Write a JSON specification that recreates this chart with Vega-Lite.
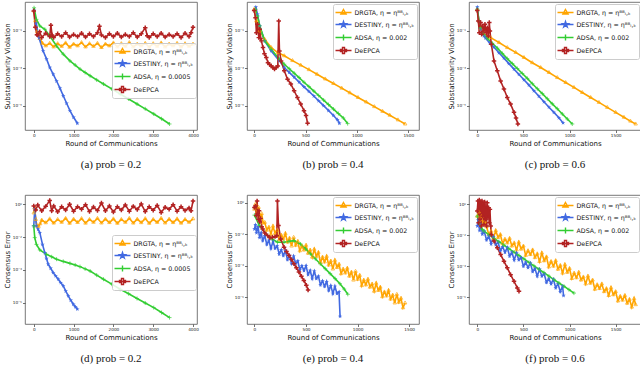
{
"$schema": "https://vega.github.io/schema/vega-lite/v6.json",
"padding": {"left": 2, "top": 1, "right": 0, "bottom": 0},
"background": "white",
"columns": 3,
"spacing": {"row": 65, "column": 50},
"bounds": "flush",
"datasets": {
"a": [
{"series":"DRGTA","x":0,"y":1.2},{"series":"DRGTA","x":40,"y":0.35},{"series":"DRGTA","x":90,"y":0.09},{"series":"DRGTA","x":150,"y":0.04},{"series":"DRGTA","x":220,"y":0.022},{"series":"DRGTA","x":300,"y":0.016},{"series":"DRGTA","x":400,"y":0.022},{"series":"DRGTA","x":500,"y":0.014},{"series":"DRGTA","x":600,"y":0.021},{"series":"DRGTA","x":700,"y":0.015},{"series":"DRGTA","x":800,"y":0.023},{"series":"DRGTA","x":900,"y":0.0135},{"series":"DRGTA","x":1000,"y":0.02},{"series":"DRGTA","x":1100,"y":0.016},{"series":"DRGTA","x":1200,"y":0.024},{"series":"DRGTA","x":1300,"y":0.014},{"series":"DRGTA","x":1400,"y":0.021},{"series":"DRGTA","x":1500,"y":0.015},{"series":"DRGTA","x":1600,"y":0.022},{"series":"DRGTA","x":1700,"y":0.013},{"series":"DRGTA","x":1800,"y":0.02},{"series":"DRGTA","x":1900,"y":0.016},{"series":"DRGTA","x":2000,"y":0.023},{"series":"DRGTA","x":2100,"y":0.014},{"series":"DRGTA","x":2200,"y":0.021},{"series":"DRGTA","x":2300,"y":0.015},{"series":"DRGTA","x":2400,"y":0.024},{"series":"DRGTA","x":2500,"y":0.014},{"series":"DRGTA","x":2600,"y":0.02},{"series":"DRGTA","x":2700,"y":0.016},{"series":"DRGTA","x":2800,"y":0.022},{"series":"DRGTA","x":2900,"y":0.0135},{"series":"DRGTA","x":3000,"y":0.021},{"series":"DRGTA","x":3100,"y":0.015},{"series":"DRGTA","x":3200,"y":0.023},{"series":"DRGTA","x":3300,"y":0.014},{"series":"DRGTA","x":3400,"y":0.02},{"series":"DRGTA","x":3500,"y":0.016},{"series":"DRGTA","x":3600,"y":0.022},{"series":"DRGTA","x":3700,"y":0.014},{"series":"DRGTA","x":3800,"y":0.021},{"series":"DRGTA","x":3900,"y":0.015},{"series":"DRGTA","x":4000,"y":0.02},
{"series":"DESTINY","x":8,"y":1.26},{"series":"DESTINY","x":60,"y":0.25},{"series":"DESTINY","x":135,"y":0.041},{"series":"DESTINY","x":236,"y":0.0085},{"series":"DESTINY","x":320,"y":0.0032},{"series":"DESTINY","x":404,"y":0.0011},{"series":"DESTINY","x":490,"y":4.8e-4},{"series":"DESTINY","x":573,"y":2.1e-4},{"series":"DESTINY","x":660,"y":8.5e-5},{"series":"DESTINY","x":741,"y":3.4e-5},{"series":"DESTINY","x":825,"y":1.35e-5},{"series":"DESTINY","x":909,"y":5.4e-6},{"series":"DESTINY","x":1000,"y":2.4e-6},{"series":"DESTINY","x":1095,"y":1.15e-6},
{"series":"ADSA","x":8,"y":1.74},{"series":"ADSA","x":67,"y":0.42},{"series":"ADSA","x":152,"y":0.186},{"series":"ADSA","x":278,"y":0.123},{"series":"ADSA","x":404,"y":0.054},{"series":"ADSA","x":573,"y":0.0158},{"series":"ADSA","x":741,"y":5.75e-3},{"series":"ADSA","x":909,"y":2.5e-3},{"series":"ADSA","x":1040,"y":1.5e-3},{"series":"ADSA","x":1162,"y":9.1e-4},{"series":"ADSA","x":1290,"y":6e-4},{"series":"ADSA","x":1415,"y":4.0e-4},{"series":"ADSA","x":1580,"y":2.4e-4},{"series":"ADSA","x":1751,"y":1.45e-4},{"series":"ADSA","x":1960,"y":7.9e-5},{"series":"ADSA","x":2172,"y":4.2e-5},{"series":"ADSA","x":2383,"y":2.3e-5},{"series":"ADSA","x":2594,"y":1.23e-5},{"series":"ADSA","x":2800,"y":6.8e-6},{"series":"ADSA","x":3014,"y":3.6e-6},{"series":"ADSA","x":3210,"y":2e-6},{"series":"ADSA","x":3410,"y":1.05e-6},
{"series":"DeEPCA","x":0,"y":1.17},{"series":"DeEPCA","x":40,"y":0.16},{"series":"DeEPCA","x":80,"y":0.063},{"series":"DeEPCA","x":100,"y":0.06},{"series":"DeEPCA","x":150,"y":0.09},{"series":"DeEPCA","x":200,"y":0.045},{"series":"DeEPCA","x":300,"y":0.075},{"series":"DeEPCA","x":400,"y":0.05},{"series":"DeEPCA","x":430,"y":0.2},{"series":"DeEPCA","x":460,"y":0.06},{"series":"DeEPCA","x":500,"y":0.045},{"series":"DeEPCA","x":600,"y":0.07},{"series":"DeEPCA","x":700,"y":0.05},{"series":"DeEPCA","x":800,"y":0.08},{"series":"DeEPCA","x":900,"y":0.048},{"series":"DeEPCA","x":1000,"y":0.065},{"series":"DeEPCA","x":1100,"y":0.05},{"series":"DeEPCA","x":1200,"y":0.075},{"series":"DeEPCA","x":1300,"y":0.047},{"series":"DeEPCA","x":1400,"y":0.07},{"series":"DeEPCA","x":1500,"y":0.05},{"series":"DeEPCA","x":1600,"y":0.08},{"series":"DeEPCA","x":1650,"y":0.18},{"series":"DeEPCA","x":1700,"y":0.06},{"series":"DeEPCA","x":1800,"y":0.045},{"series":"DeEPCA","x":1900,"y":0.07},{"series":"DeEPCA","x":2000,"y":0.05},{"series":"DeEPCA","x":2100,"y":0.075},{"series":"DeEPCA","x":2200,"y":0.048},{"series":"DeEPCA","x":2300,"y":0.065},{"series":"DeEPCA","x":2400,"y":0.05},{"series":"DeEPCA","x":2500,"y":0.08},{"series":"DeEPCA","x":2600,"y":0.047},{"series":"DeEPCA","x":2700,"y":0.07},{"series":"DeEPCA","x":2800,"y":0.15},{"series":"DeEPCA","x":2850,"y":0.055},{"series":"DeEPCA","x":2900,"y":0.045},{"series":"DeEPCA","x":3000,"y":0.07},{"series":"DeEPCA","x":3100,"y":0.05},{"series":"DeEPCA","x":3200,"y":0.075},{"series":"DeEPCA","x":3300,"y":0.048},{"series":"DeEPCA","x":3400,"y":0.065},{"series":"DeEPCA","x":3500,"y":0.05},{"series":"DeEPCA","x":3600,"y":0.07},{"series":"DeEPCA","x":3700,"y":0.045},{"series":"DeEPCA","x":3800,"y":0.075},{"series":"DeEPCA","x":3900,"y":0.05},{"series":"DeEPCA","x":3950,"y":0.08},{"series":"DeEPCA","x":4000,"y":0.16}
],
"b": [
{"series":"DRGTA","x":0,"y":1.45},{"series":"DRGTA","x":22,"y":0.34},{"series":"DRGTA","x":54,"y":0.1},{"series":"DRGTA","x":102,"y":0.036},{"series":"DRGTA","x":166,"y":0.0129},{"series":"DRGTA","x":230,"y":7e-3},{"series":"DRGTA","x":293,"y":4.7e-3},{"series":"DRGTA","x":373,"y":2.6e-3},{"series":"DRGTA","x":453,"y":1.48e-3},{"series":"DRGTA","x":533,"y":8.5e-4},{"series":"DRGTA","x":612,"y":4.8e-4},{"series":"DRGTA","x":692,"y":2.7e-4},{"series":"DRGTA","x":772,"y":1.55e-4},{"series":"DRGTA","x":852,"y":8.7e-5},{"series":"DRGTA","x":931,"y":4.9e-5},{"series":"DRGTA","x":1011,"y":2.75e-5},{"series":"DRGTA","x":1091,"y":1.58e-5},{"series":"DRGTA","x":1170,"y":8.9e-6},{"series":"DRGTA","x":1250,"y":5e-6},{"series":"DRGTA","x":1320,"y":3.1e-6},{"series":"DRGTA","x":1400,"y":1.74e-6},{"series":"DRGTA","x":1470,"y":1.05e-6},
{"series":"DESTINY","x":16,"y":1.9},{"series":"DESTINY","x":32,"y":0.78},{"series":"DESTINY","x":54,"y":0.186},{"series":"DESTINY","x":102,"y":0.0295},{"series":"DESTINY","x":166,"y":8.5e-3},{"series":"DESTINY","x":246,"y":2.5e-3},{"series":"DESTINY","x":293,"y":1.1e-3},{"series":"DESTINY","x":341,"y":6.1e-4},{"series":"DESTINY","x":389,"y":3.4e-4},{"series":"DESTINY","x":437,"y":1.85e-4},{"series":"DESTINY","x":485,"y":1.02e-4},{"series":"DESTINY","x":533,"y":5.8e-5},{"series":"DESTINY","x":581,"y":3.3e-5},{"series":"DESTINY","x":628,"y":1.8e-5},{"series":"DESTINY","x":676,"y":1e-5},{"series":"DESTINY","x":724,"y":5.5e-6},{"series":"DESTINY","x":772,"y":3e-6},{"series":"DESTINY","x":810,"y":1.8e-6},{"series":"DESTINY","x":830,"y":1.15e-6},
{"series":"ADSA","x":13,"y":1.45},{"series":"ADSA","x":32,"y":0.63},{"series":"ADSA","x":54,"y":0.186},{"series":"ADSA","x":102,"y":0.0295},{"series":"ADSA","x":166,"y":0.0105},{"series":"ADSA","x":246,"y":3.1e-3},{"series":"ADSA","x":293,"y":1.66e-3},{"series":"ADSA","x":341,"y":9.5e-4},{"series":"ADSA","x":389,"y":5.5e-4},{"series":"ADSA","x":437,"y":3.2e-4},{"series":"ADSA","x":485,"y":1.8e-4},{"series":"ADSA","x":533,"y":1.05e-4},{"series":"ADSA","x":581,"y":6e-5},{"series":"ADSA","x":628,"y":3.5e-5},{"series":"ADSA","x":676,"y":2e-5},{"series":"ADSA","x":724,"y":1.15e-5},{"series":"ADSA","x":772,"y":6.6e-6},{"series":"ADSA","x":820,"y":3.8e-6},{"series":"ADSA","x":868,"y":2.2e-6},{"series":"ADSA","x":910,"y":1.1e-6},
{"series":"DeEPCA","x":0,"y":1.26},{"series":"DeEPCA","x":13,"y":0.51},{"series":"DeEPCA","x":22,"y":0.081},{"series":"DeEPCA","x":32,"y":0.23},{"series":"DeEPCA","x":45,"y":0.044},{"series":"DeEPCA","x":54,"y":0.123},{"series":"DeEPCA","x":62,"y":0.04},{"series":"DeEPCA","x":70,"y":0.0295},{"series":"DeEPCA","x":86,"y":0.0129},{"series":"DeEPCA","x":100,"y":6e-3},{"series":"DeEPCA","x":118,"y":3.8e-3},{"series":"DeEPCA","x":134,"y":2.0e-3},{"series":"DeEPCA","x":150,"y":1.6e-3},{"series":"DeEPCA","x":166,"y":1.35e-3},{"series":"DeEPCA","x":182,"y":1.1e-3},{"series":"DeEPCA","x":198,"y":9.1e-4},{"series":"DeEPCA","x":214,"y":1.1e-3},{"series":"DeEPCA","x":230,"y":1.35e-3},{"series":"DeEPCA","x":239,"y":0.34},{"series":"DeEPCA","x":246,"y":8.5e-3},{"series":"DeEPCA","x":262,"y":2.5e-3},{"series":"DeEPCA","x":293,"y":7.4e-4},{"series":"DeEPCA","x":325,"y":2.6e-4},{"series":"DeEPCA","x":357,"y":1.45e-4},{"series":"DeEPCA","x":389,"y":6.3e-5},{"series":"DeEPCA","x":421,"y":2.75e-5},{"series":"DeEPCA","x":453,"y":1.23e-5},{"series":"DeEPCA","x":485,"y":5.4e-6},{"series":"DeEPCA","x":505,"y":3e-6},{"series":"DeEPCA","x":520,"y":1.15e-6}
],
"c": [
{"series":"DRGTA","x":0,"y":1.45},{"series":"DRGTA","x":18,"y":0.34},{"series":"DRGTA","x":36,"y":0.123},{"series":"DRGTA","x":72,"y":0.066},{"series":"DRGTA","x":145,"y":0.044},{"series":"DRGTA","x":235,"y":0.024},{"series":"DRGTA","x":325,"y":0.0129},{"series":"DRGTA","x":416,"y":7.1e-3},{"series":"DRGTA","x":506,"y":3.8e-3},{"series":"DRGTA","x":596,"y":2.0e-3},{"series":"DRGTA","x":687,"y":1.1e-3},{"series":"DRGTA","x":777,"y":6e-4},{"series":"DRGTA","x":867,"y":3.2e-4},{"series":"DRGTA","x":958,"y":1.74e-4},{"series":"DRGTA","x":1048,"y":9.5e-5},{"series":"DRGTA","x":1138,"y":5.1e-5},{"series":"DRGTA","x":1229,"y":2.75e-5},{"series":"DRGTA","x":1319,"y":1.5e-5},{"series":"DRGTA","x":1409,"y":8.1e-6},{"series":"DRGTA","x":1500,"y":4.4e-6},{"series":"DRGTA","x":1590,"y":2.4e-6},{"series":"DRGTA","x":1660,"y":1.5e-6},{"series":"DRGTA","x":1717,"y":1.05e-6},
{"series":"DESTINY","x":0,"y":1.9},{"series":"DESTINY","x":18,"y":0.34},{"series":"DESTINY","x":36,"y":0.123},{"series":"DESTINY","x":72,"y":0.054},{"series":"DESTINY","x":90,"y":0.041},{"series":"DESTINY","x":135,"y":0.023},{"series":"DESTINY","x":181,"y":0.0135},{"series":"DESTINY","x":235,"y":6.8e-3},{"series":"DESTINY","x":289,"y":3.5e-3},{"series":"DESTINY","x":343,"y":1.78e-3},{"series":"DESTINY","x":398,"y":9.1e-4},{"series":"DESTINY","x":452,"y":4.7e-4},{"series":"DESTINY","x":506,"y":2.45e-4},{"series":"DESTINY","x":560,"y":1.26e-4},{"series":"DESTINY","x":614,"y":6.3e-5},{"series":"DESTINY","x":668,"y":3.2e-5},{"series":"DESTINY","x":723,"y":1.62e-5},{"series":"DESTINY","x":777,"y":8.3e-6},{"series":"DESTINY","x":831,"y":4.4e-6},{"series":"DESTINY","x":885,"y":2.24e-6},{"series":"DESTINY","x":930,"y":1.2e-6},
{"series":"ADSA","x":0,"y":1.45},{"series":"ADSA","x":18,"y":0.34},{"series":"ADSA","x":36,"y":0.15},{"series":"ADSA","x":72,"y":0.066},{"series":"ADSA","x":108,"y":0.041},{"series":"ADSA","x":163,"y":0.022},{"series":"ADSA","x":217,"y":0.012},{"series":"ADSA","x":271,"y":6.3e-3},{"series":"ADSA","x":325,"y":3.3e-3},{"series":"ADSA","x":380,"y":1.78e-3},{"series":"ADSA","x":434,"y":9.8e-4},{"series":"ADSA","x":488,"y":5.3e-4},{"series":"ADSA","x":542,"y":2.9e-4},{"series":"ADSA","x":597,"y":1.5e-4},{"series":"ADSA","x":651,"y":8.1e-5},{"series":"ADSA","x":705,"y":4.4e-5},{"series":"ADSA","x":759,"y":2.35e-5},{"series":"ADSA","x":813,"y":1.26e-5},{"series":"ADSA","x":867,"y":6.9e-6},{"series":"ADSA","x":922,"y":3.6e-6},{"series":"ADSA","x":976,"y":1.95e-6},{"series":"ADSA","x":1030,"y":1.05e-6},
{"series":"DeEPCA","x":0,"y":1.26},{"series":"DeEPCA","x":11,"y":0.34},{"series":"DeEPCA","x":22,"y":0.081},{"series":"DeEPCA","x":36,"y":0.28},{"series":"DeEPCA","x":47,"y":0.066},{"series":"DeEPCA","x":58,"y":0.186},{"series":"DeEPCA","x":72,"y":0.1},{"series":"DeEPCA","x":83,"y":0.23},{"series":"DeEPCA","x":98,"y":0.081},{"series":"DeEPCA","x":108,"y":0.15},{"series":"DeEPCA","x":119,"y":0.054},{"series":"DeEPCA","x":130,"y":0.28},{"series":"DeEPCA","x":137,"y":0.1},{"series":"DeEPCA","x":152,"y":0.0195},{"series":"DeEPCA","x":181,"y":2.5e-3},{"series":"DeEPCA","x":217,"y":7.4e-4},{"series":"DeEPCA","x":253,"y":2.1e-4},{"series":"DeEPCA","x":289,"y":7.8e-5},{"series":"DeEPCA","x":325,"y":2.75e-5},{"series":"DeEPCA","x":361,"y":1.23e-5},{"series":"DeEPCA","x":398,"y":4.4e-6},{"series":"DeEPCA","x":420,"y":2.2e-6},{"series":"DeEPCA","x":440,"y":1.05e-6}
],
"d": [
{"series":"DRGTA","x":0,"y":0.3},{"series":"DRGTA","x":20,"y":0.6},{"series":"DRGTA","x":50,"y":0.12},{"series":"DRGTA","x":80,"y":0.05},{"series":"DRGTA","x":120,"y":0.045},{"series":"DRGTA","x":160,"y":0.065},{"series":"DRGTA","x":200,"y":0.11},{"series":"DRGTA","x":300,"y":0.075},{"series":"DRGTA","x":400,"y":0.13},{"series":"DRGTA","x":500,"y":0.072},{"series":"DRGTA","x":600,"y":0.12},{"series":"DRGTA","x":700,"y":0.08},{"series":"DRGTA","x":800,"y":0.14},{"series":"DRGTA","x":900,"y":0.07},{"series":"DRGTA","x":1000,"y":0.125},{"series":"DRGTA","x":1100,"y":0.078},{"series":"DRGTA","x":1200,"y":0.135},{"series":"DRGTA","x":1300,"y":0.071},{"series":"DRGTA","x":1400,"y":0.12},{"series":"DRGTA","x":1500,"y":0.08},{"series":"DRGTA","x":1600,"y":0.14},{"series":"DRGTA","x":1700,"y":0.073},{"series":"DRGTA","x":1800,"y":0.125},{"series":"DRGTA","x":1900,"y":0.077},{"series":"DRGTA","x":2000,"y":0.13},{"series":"DRGTA","x":2100,"y":0.07},{"series":"DRGTA","x":2200,"y":0.12},{"series":"DRGTA","x":2300,"y":0.08},{"series":"DRGTA","x":2400,"y":0.14},{"series":"DRGTA","x":2500,"y":0.072},{"series":"DRGTA","x":2600,"y":0.125},{"series":"DRGTA","x":2700,"y":0.076},{"series":"DRGTA","x":2800,"y":0.135},{"series":"DRGTA","x":2900,"y":0.07},{"series":"DRGTA","x":3000,"y":0.12},{"series":"DRGTA","x":3100,"y":0.079},{"series":"DRGTA","x":3200,"y":0.14},{"series":"DRGTA","x":3300,"y":0.073},{"series":"DRGTA","x":3400,"y":0.125},{"series":"DRGTA","x":3500,"y":0.077},{"series":"DRGTA","x":3600,"y":0.13},{"series":"DRGTA","x":3700,"y":0.071},{"series":"DRGTA","x":3800,"y":0.12},{"series":"DRGTA","x":3900,"y":0.08},{"series":"DRGTA","x":4000,"y":0.13},
{"series":"DESTINY","x":0,"y":0.048},{"series":"DESTINY","x":25,"y":0.5},{"series":"DESTINY","x":67,"y":0.048},{"series":"DESTINY","x":110,"y":0.03},{"series":"DESTINY","x":152,"y":0.0186},{"series":"DESTINY","x":219,"y":3.6e-3},{"series":"DESTINY","x":278,"y":1.12e-3},{"series":"DESTINY","x":320,"y":5e-4},{"series":"DESTINY","x":362,"y":2.2e-4},{"series":"DESTINY","x":425,"y":1.26e-4},{"series":"DESTINY","x":488,"y":6.8e-5},{"series":"DESTINY","x":550,"y":4.3e-5},{"series":"DESTINY","x":615,"y":2.7e-5},{"series":"DESTINY","x":678,"y":1.66e-5},{"series":"DESTINY","x":741,"y":1.05e-5},{"series":"DESTINY","x":804,"y":5.1e-6},{"series":"DESTINY","x":867,"y":2.6e-6},{"series":"DESTINY","x":930,"y":1.4e-6},{"series":"DESTINY","x":994,"y":8e-7},{"series":"DESTINY","x":1045,"y":5.6e-7},{"series":"DESTINY","x":1095,"y":4e-7},
{"series":"ADSA","x":0,"y":0.048},{"series":"ADSA","x":25,"y":9.3e-3},{"series":"ADSA","x":67,"y":3.6e-3},{"series":"ADSA","x":152,"y":1.65e-3},{"series":"ADSA","x":320,"y":8.9e-4},{"series":"ADSA","x":450,"y":6.3e-4},{"series":"ADSA","x":573,"y":4.5e-4},{"series":"ADSA","x":740,"y":3.3e-4},{"series":"ADSA","x":909,"y":2.5e-4},{"series":"ADSA","x":1040,"y":2e-4},{"series":"ADSA","x":1162,"y":1.58e-4},{"series":"ADSA","x":1290,"y":1.15e-4},{"series":"ADSA","x":1415,"y":8.5e-5},{"series":"ADSA","x":1580,"y":4.8e-5},{"series":"ADSA","x":1751,"y":2.7e-5},{"series":"ADSA","x":1960,"y":1.35e-5},{"series":"ADSA","x":2172,"y":6.6e-6},{"series":"ADSA","x":2383,"y":3.5e-6},{"series":"ADSA","x":2594,"y":1.8e-6},{"series":"ADSA","x":2800,"y":9.5e-7},{"series":"ADSA","x":3014,"y":5e-7},{"series":"ADSA","x":3210,"y":2.5e-7},{"series":"ADSA","x":3410,"y":1.23e-7},
{"series":"DeEPCA","x":0,"y":0.8},{"series":"DeEPCA","x":50,"y":0.45},{"series":"DeEPCA","x":100,"y":0.9},{"series":"DeEPCA","x":200,"y":0.4},{"series":"DeEPCA","x":300,"y":0.75},{"series":"DeEPCA","x":400,"y":1.7},{"series":"DeEPCA","x":450,"y":0.4},{"series":"DeEPCA","x":500,"y":0.8},{"series":"DeEPCA","x":600,"y":0.35},{"series":"DeEPCA","x":700,"y":0.7},{"series":"DeEPCA","x":800,"y":0.45},{"series":"DeEPCA","x":900,"y":1.0},{"series":"DeEPCA","x":1000,"y":0.38},{"series":"DeEPCA","x":1100,"y":0.72},{"series":"DeEPCA","x":1200,"y":0.5},{"series":"DeEPCA","x":1300,"y":0.95},{"series":"DeEPCA","x":1400,"y":0.36},{"series":"DeEPCA","x":1500,"y":0.68},{"series":"DeEPCA","x":1600,"y":0.42},{"series":"DeEPCA","x":1700,"y":1.2},{"series":"DeEPCA","x":1800,"y":0.4},{"series":"DeEPCA","x":1900,"y":0.78},{"series":"DeEPCA","x":2000,"y":0.34},{"series":"DeEPCA","x":2100,"y":0.7},{"series":"DeEPCA","x":2200,"y":0.45},{"series":"DeEPCA","x":2300,"y":0.92},{"series":"DeEPCA","x":2400,"y":0.38},{"series":"DeEPCA","x":2500,"y":0.75},{"series":"DeEPCA","x":2600,"y":0.48},{"series":"DeEPCA","x":2700,"y":1.05},{"series":"DeEPCA","x":2800,"y":0.36},{"series":"DeEPCA","x":2900,"y":0.7},{"series":"DeEPCA","x":3000,"y":0.44},{"series":"DeEPCA","x":3100,"y":0.85},{"series":"DeEPCA","x":3200,"y":0.32},{"series":"DeEPCA","x":3300,"y":0.66},{"series":"DeEPCA","x":3400,"y":0.5},{"series":"DeEPCA","x":3500,"y":0.95},{"series":"DeEPCA","x":3600,"y":0.38},{"series":"DeEPCA","x":3700,"y":0.72},{"series":"DeEPCA","x":3800,"y":0.42},{"series":"DeEPCA","x":3900,"y":0.6},{"series":"DeEPCA","x":3950,"y":0.4},{"series":"DeEPCA","x":4000,"y":1.6}
],
"e": [
{"series":"DRGTA","x":0,"y":0.38},{"series":"DRGTA","x":10,"y":0.79},{"series":"DRGTA","x":25,"y":0.25},{"series":"DRGTA","x":40,"y":0.5},{"series":"DRGTA","x":55,"y":0.1},{"series":"DRGTA","x":70,"y":0.2},{"series":"DRGTA","x":85,"y":0.05},{"series":"DRGTA","x":100,"y":5.6e-2},{"series":"DRGTA","x":120,"y":1.78e-2},{"series":"DRGTA","x":140,"y":2.8e-2},{"series":"DRGTA","x":160,"y":1.0e-2},{"series":"DRGTA","x":180,"y":3.2e-2},{"series":"DRGTA","x":200,"y":1.12e-2},{"series":"DRGTA","x":220,"y":1.78e-2},{"series":"DRGTA","x":240,"y":4.5e-3},{"series":"DRGTA","x":260,"y":8.9e-3},{"series":"DRGTA","x":280,"y":5.0e-3},{"series":"DRGTA","x":300,"y":1.12e-2},{"series":"DRGTA","x":320,"y":3.2e-3},{"series":"DRGTA","x":340,"y":5.6e-3},{"series":"DRGTA","x":360,"y":1.78e-3},{"series":"DRGTA","x":380,"y":6.3e-3},{"series":"DRGTA","x":400,"y":2.0e-3},{"series":"DRGTA","x":420,"y":3.55e-3},{"series":"DRGTA","x":440,"y":8.9e-4},{"series":"DRGTA","x":460,"y":1.78e-3},{"series":"DRGTA","x":480,"y":1.0e-3},{"series":"DRGTA","x":500,"y":2.0e-3},{"series":"DRGTA","x":520,"y":6.3e-4},{"series":"DRGTA","x":540,"y":1.0e-3},{"series":"DRGTA","x":560,"y":3.55e-4},{"series":"DRGTA","x":580,"y":1.12e-3},{"series":"DRGTA","x":600,"y":4.0e-4},{"series":"DRGTA","x":620,"y":7.1e-4},{"series":"DRGTA","x":640,"y":1.58e-4},{"series":"DRGTA","x":660,"y":3.55e-4},{"series":"DRGTA","x":680,"y":1.78e-4},{"series":"DRGTA","x":700,"y":4.0e-4},{"series":"DRGTA","x":720,"y":1.12e-4},{"series":"DRGTA","x":740,"y":2.0e-4},{"series":"DRGTA","x":760,"y":6.3e-5},{"series":"DRGTA","x":780,"y":2.24e-4},{"series":"DRGTA","x":800,"y":7.9e-5},{"series":"DRGTA","x":820,"y":1.26e-4},{"series":"DRGTA","x":840,"y":3.2e-5},{"series":"DRGTA","x":860,"y":6.3e-5},{"series":"DRGTA","x":880,"y":3.55e-5},{"series":"DRGTA","x":900,"y":7.1e-5},{"series":"DRGTA","x":920,"y":2.24e-5},{"series":"DRGTA","x":940,"y":4.0e-5},{"series":"DRGTA","x":960,"y":1.26e-5},{"series":"DRGTA","x":980,"y":4.5e-5},{"series":"DRGTA","x":1000,"y":1.41e-5},{"series":"DRGTA","x":1020,"y":2.5e-5},{"series":"DRGTA","x":1040,"y":5.6e-6},{"series":"DRGTA","x":1060,"y":1.26e-5},{"series":"DRGTA","x":1080,"y":6.3e-6},{"series":"DRGTA","x":1100,"y":1.41e-5},{"series":"DRGTA","x":1120,"y":4.5e-6},{"series":"DRGTA","x":1140,"y":7.1e-6},{"series":"DRGTA","x":1160,"y":2.5e-6},{"series":"DRGTA","x":1180,"y":7.9e-6},{"series":"DRGTA","x":1200,"y":2.8e-6},{"series":"DRGTA","x":1220,"y":4.5e-6},{"series":"DRGTA","x":1240,"y":1.12e-6},{"series":"DRGTA","x":1260,"y":2.24e-6},{"series":"DRGTA","x":1280,"y":1.26e-6},{"series":"DRGTA","x":1300,"y":2.8e-6},{"series":"DRGTA","x":1320,"y":7.9e-7},{"series":"DRGTA","x":1340,"y":1.41e-6},{"series":"DRGTA","x":1360,"y":4.5e-7},{"series":"DRGTA","x":1380,"y":1.58e-6},{"series":"DRGTA","x":1400,"y":5.0e-7},{"series":"DRGTA","x":1420,"y":8.9e-7},{"series":"DRGTA","x":1440,"y":2.24e-7},{"series":"DRGTA","x":1460,"y":4.5e-7},
{"series":"DESTINY","x":0,"y":0.021},{"series":"DESTINY","x":10,"y":0.04},{"series":"DESTINY","x":20,"y":0.012},{"series":"DESTINY","x":35,"y":0.03},{"series":"DESTINY","x":50,"y":6e-3},{"series":"DESTINY","x":65,"y":0.012},{"series":"DESTINY","x":80,"y":4e-3},{"series":"DESTINY","x":100,"y":7.9e-3},{"series":"DESTINY","x":120,"y":2.24e-3},{"series":"DESTINY","x":140,"y":4.0e-3},{"series":"DESTINY","x":160,"y":1.26e-3},{"series":"DESTINY","x":180,"y":3.55e-3},{"series":"DESTINY","x":200,"y":1.26e-3},{"series":"DESTINY","x":220,"y":1.78e-3},{"series":"DESTINY","x":240,"y":5.6e-4},{"series":"DESTINY","x":260,"y":1.0e-3},{"series":"DESTINY","x":280,"y":4.5e-4},{"series":"DESTINY","x":300,"y":8.9e-4},{"series":"DESTINY","x":320,"y":2.5e-4},{"series":"DESTINY","x":340,"y":4.5e-4},{"series":"DESTINY","x":360,"y":1.41e-4},{"series":"DESTINY","x":380,"y":4.0e-4},{"series":"DESTINY","x":400,"y":1.41e-4},{"series":"DESTINY","x":420,"y":2.0e-4},{"series":"DESTINY","x":440,"y":5.6e-5},{"series":"DESTINY","x":460,"y":1.0e-4},{"series":"DESTINY","x":480,"y":5.0e-5},{"series":"DESTINY","x":500,"y":1.0e-4},{"series":"DESTINY","x":520,"y":2.8e-5},{"series":"DESTINY","x":540,"y":5.0e-5},{"series":"DESTINY","x":560,"y":1.58e-5},{"series":"DESTINY","x":580,"y":4.5e-5},{"series":"DESTINY","x":600,"y":1.58e-5},{"series":"DESTINY","x":620,"y":2.24e-5},{"series":"DESTINY","x":640,"y":6.3e-6},{"series":"DESTINY","x":660,"y":1.12e-5},{"series":"DESTINY","x":680,"y":5.0e-6},{"series":"DESTINY","x":700,"y":1.0e-5},{"series":"DESTINY","x":720,"y":2.8e-6},{"series":"DESTINY","x":740,"y":5.6e-6},{"series":"DESTINY","x":760,"y":1.78e-6},{"series":"DESTINY","x":780,"y":5.0e-6},{"series":"DESTINY","x":800,"y":1.78e-6},{"series":"DESTINY","x":820,"y":2.24e-6},{"series":"DESTINY","x":830,"y":6.3e-8},
{"series":"ADSA","x":0,"y":0.16},{"series":"ADSA","x":48,"y":0.035},{"series":"ADSA","x":128,"y":8.1e-3},{"series":"ADSA","x":175,"y":4.8e-3},{"series":"ADSA","x":223,"y":3.1e-3},{"series":"ADSA","x":287,"y":3.1e-3},{"series":"ADSA","x":335,"y":3.5e-3},{"series":"ADSA","x":383,"y":3.9e-3},{"series":"ADSA","x":447,"y":2.4e-3},{"series":"ADSA","x":495,"y":1.2e-3},{"series":"ADSA","x":542,"y":5.75e-4},{"series":"ADSA","x":590,"y":2.8e-4},{"series":"ADSA","x":638,"y":1.35e-4},{"series":"ADSA","x":686,"y":6.6e-5},{"series":"ADSA","x":734,"y":3.2e-5},{"series":"ADSA","x":782,"y":1.55e-5},{"series":"ADSA","x":829,"y":7.4e-6},{"series":"ADSA","x":870,"y":3.4e-6},{"series":"ADSA","x":905,"y":1.58e-6},
{"series":"DeEPCA","x":0,"y":0.49},{"series":"DeEPCA","x":10,"y":0.6},{"series":"DeEPCA","x":18,"y":0.15},{"series":"DeEPCA","x":26,"y":1.26},{"series":"DeEPCA","x":32,"y":0.2},{"series":"DeEPCA","x":38,"y":0.089},{"series":"DeEPCA","x":45,"y":0.3},{"series":"DeEPCA","x":51,"y":0.06},{"series":"DeEPCA","x":60,"y":0.1},{"series":"DeEPCA","x":70,"y":0.03},{"series":"DeEPCA","x":80,"y":0.021},{"series":"DeEPCA","x":100,"y":0.012},{"series":"DeEPCA","x":128,"y":8.1e-3},{"series":"DeEPCA","x":150,"y":6e-3},{"series":"DeEPCA","x":175,"y":6.3e-3},{"series":"DeEPCA","x":200,"y":7e-3},{"series":"DeEPCA","x":217,"y":8e-3},{"series":"DeEPCA","x":223,"y":1.26},{"series":"DeEPCA","x":233,"y":0.035},{"series":"DeEPCA","x":255,"y":5e-3},{"series":"DeEPCA","x":287,"y":1.5e-3},{"series":"DeEPCA","x":311,"y":8e-4},{"series":"DeEPCA","x":335,"y":4.5e-4},{"series":"DeEPCA","x":359,"y":2.5e-4},{"series":"DeEPCA","x":383,"y":1.35e-4},{"series":"DeEPCA","x":407,"y":7.5e-5},{"series":"DeEPCA","x":431,"y":4.1e-5},{"series":"DeEPCA","x":455,"y":2.2e-5},{"series":"DeEPCA","x":479,"y":1.2e-5},{"series":"DeEPCA","x":503,"y":6e-6},{"series":"DeEPCA","x":520,"y":3e-6}
],
"f": [
{"series":"DRGTA","x":0,"y":0.17},{"series":"DRGTA","x":15,"y":0.32},{"series":"DRGTA","x":30,"y":0.1},{"series":"DRGTA","x":45,"y":0.16},{"series":"DRGTA","x":60,"y":0.05},{"series":"DRGTA","x":80,"y":0.08},{"series":"DRGTA","x":100,"y":3.55e-2},{"series":"DRGTA","x":125,"y":1.12e-2},{"series":"DRGTA","x":150,"y":1.78e-2},{"series":"DRGTA","x":175,"y":6.3e-3},{"series":"DRGTA","x":200,"y":2.0e-2},{"series":"DRGTA","x":225,"y":7.1e-3},{"series":"DRGTA","x":250,"y":1.12e-2},{"series":"DRGTA","x":275,"y":2.8e-3},{"series":"DRGTA","x":300,"y":5.6e-3},{"series":"DRGTA","x":325,"y":3.2e-3},{"series":"DRGTA","x":350,"y":6.3e-3},{"series":"DRGTA","x":375,"y":2.0e-3},{"series":"DRGTA","x":400,"y":3.2e-3},{"series":"DRGTA","x":425,"y":1.12e-3},{"series":"DRGTA","x":450,"y":3.55e-3},{"series":"DRGTA","x":475,"y":1.26e-3},{"series":"DRGTA","x":500,"y":2.0e-3},{"series":"DRGTA","x":525,"y":5.0e-4},{"series":"DRGTA","x":550,"y":1.0e-3},{"series":"DRGTA","x":575,"y":5.6e-4},{"series":"DRGTA","x":600,"y":1.12e-3},{"series":"DRGTA","x":625,"y":3.55e-4},{"series":"DRGTA","x":650,"y":6.3e-4},{"series":"DRGTA","x":675,"y":2.0e-4},{"series":"DRGTA","x":700,"y":7.1e-4},{"series":"DRGTA","x":725,"y":2.24e-4},{"series":"DRGTA","x":750,"y":4.0e-4},{"series":"DRGTA","x":775,"y":8.9e-5},{"series":"DRGTA","x":800,"y":2.0e-4},{"series":"DRGTA","x":825,"y":1.0e-4},{"series":"DRGTA","x":850,"y":2.24e-4},{"series":"DRGTA","x":875,"y":6.3e-5},{"series":"DRGTA","x":900,"y":1.12e-4},{"series":"DRGTA","x":925,"y":3.55e-5},{"series":"DRGTA","x":950,"y":1.26e-4},{"series":"DRGTA","x":975,"y":4.0e-5},{"series":"DRGTA","x":1000,"y":7.1e-5},{"series":"DRGTA","x":1025,"y":1.58e-5},{"series":"DRGTA","x":1050,"y":3.55e-5},{"series":"DRGTA","x":1075,"y":1.78e-5},{"series":"DRGTA","x":1100,"y":4.0e-5},{"series":"DRGTA","x":1125,"y":1.26e-5},{"series":"DRGTA","x":1150,"y":2.0e-5},{"series":"DRGTA","x":1175,"y":7.1e-6},{"series":"DRGTA","x":1200,"y":2.24e-5},{"series":"DRGTA","x":1225,"y":7.9e-6},{"series":"DRGTA","x":1250,"y":1.26e-5},{"series":"DRGTA","x":1275,"y":3.2e-6},{"series":"DRGTA","x":1300,"y":6.3e-6},{"series":"DRGTA","x":1325,"y":3.55e-6},{"series":"DRGTA","x":1350,"y":7.1e-6},{"series":"DRGTA","x":1375,"y":2.24e-6},{"series":"DRGTA","x":1400,"y":3.55e-6},{"series":"DRGTA","x":1425,"y":1.26e-6},{"series":"DRGTA","x":1450,"y":4.0e-6},{"series":"DRGTA","x":1475,"y":1.41e-6},{"series":"DRGTA","x":1500,"y":2.24e-6},{"series":"DRGTA","x":1525,"y":5.6e-7},{"series":"DRGTA","x":1550,"y":1.12e-6},{"series":"DRGTA","x":1575,"y":6.3e-7},{"series":"DRGTA","x":1600,"y":1.26e-6},{"series":"DRGTA","x":1625,"y":4.0e-7},{"series":"DRGTA","x":1650,"y":7.1e-7},{"series":"DRGTA","x":1675,"y":2.24e-7},{"series":"DRGTA","x":1700,"y":7.9e-7},{"series":"DRGTA","x":1717,"y":3.2e-7},
{"series":"DESTINY","x":0,"y":0.039},{"series":"DESTINY","x":10,"y":0.1},{"series":"DESTINY","x":25,"y":0.02},{"series":"DESTINY","x":40,"y":0.05},{"series":"DESTINY","x":55,"y":0.012},{"series":"DESTINY","x":75,"y":1.78e-2},{"series":"DESTINY","x":100,"y":5.0e-3},{"series":"DESTINY","x":125,"y":8.9e-3},{"series":"DESTINY","x":150,"y":2.8e-3},{"series":"DESTINY","x":175,"y":7.9e-3},{"series":"DESTINY","x":200,"y":2.5e-3},{"series":"DESTINY","x":225,"y":3.55e-3},{"series":"DESTINY","x":250,"y":1.0e-3},{"series":"DESTINY","x":275,"y":1.78e-3},{"series":"DESTINY","x":300,"y":7.9e-4},{"series":"DESTINY","x":325,"y":1.58e-3},{"series":"DESTINY","x":350,"y":4.5e-4},{"series":"DESTINY","x":375,"y":7.9e-4},{"series":"DESTINY","x":400,"y":2.5e-4},{"series":"DESTINY","x":425,"y":7.1e-4},{"series":"DESTINY","x":450,"y":2.5e-4},{"series":"DESTINY","x":475,"y":3.55e-4},{"series":"DESTINY","x":500,"y":1.0e-4},{"series":"DESTINY","x":525,"y":1.78e-4},{"series":"DESTINY","x":550,"y":7.9e-5},{"series":"DESTINY","x":575,"y":1.58e-4},{"series":"DESTINY","x":600,"y":4.5e-5},{"series":"DESTINY","x":625,"y":7.1e-5},{"series":"DESTINY","x":650,"y":2.24e-5},{"series":"DESTINY","x":675,"y":6.3e-5},{"series":"DESTINY","x":700,"y":2.24e-5},{"series":"DESTINY","x":725,"y":3.2e-5},{"series":"DESTINY","x":750,"y":8.9e-6},{"series":"DESTINY","x":775,"y":1.58e-5},{"series":"DESTINY","x":800,"y":7.1e-6},{"series":"DESTINY","x":825,"y":1.41e-5},{"series":"DESTINY","x":850,"y":4.0e-6},{"series":"DESTINY","x":875,"y":7.1e-6},{"series":"DESTINY","x":900,"y":2.24e-6},{"series":"DESTINY","x":925,"y":5.0e-6},{"series":"DESTINY","x":935,"y":1.26e-6},
{"series":"ADSA","x":0,"y":0.17},{"series":"ADSA","x":18,"y":0.065},{"series":"ADSA","x":54,"y":0.024},{"series":"ADSA","x":72,"y":0.0186},{"series":"ADSA","x":126,"y":0.0108},{"series":"ADSA","x":181,"y":6.3e-3},{"series":"ADSA","x":235,"y":3.8e-3},{"series":"ADSA","x":289,"y":2.3e-3},{"series":"ADSA","x":343,"y":1.35e-3},{"series":"ADSA","x":398,"y":8.1e-4},{"series":"ADSA","x":452,"y":4.9e-4},{"series":"ADSA","x":506,"y":2.95e-4},{"series":"ADSA","x":560,"y":1.74e-4},{"series":"ADSA","x":614,"y":1.05e-4},{"series":"ADSA","x":668,"y":6.3e-5},{"series":"ADSA","x":723,"y":3.8e-5},{"series":"ADSA","x":777,"y":2.24e-5},{"series":"ADSA","x":831,"y":1.35e-5},{"series":"ADSA","x":885,"y":8.1e-6},{"series":"ADSA","x":940,"y":5e-6},{"series":"ADSA","x":994,"y":3e-6},{"series":"ADSA","x":1048,"y":1.8e-6},
{"series":"DeEPCA","x":0,"y":0.37},{"series":"DeEPCA","x":7,"y":1.65},{"series":"DeEPCA","x":14,"y":0.065},{"series":"DeEPCA","x":22,"y":1.9},{"series":"DeEPCA","x":29,"y":0.106},{"series":"DeEPCA","x":36,"y":1.28},{"series":"DeEPCA","x":43,"y":0.039},{"series":"DeEPCA","x":51,"y":1.65},{"series":"DeEPCA","x":58,"y":0.17},{"series":"DeEPCA","x":65,"y":1.0},{"series":"DeEPCA","x":72,"y":0.05},{"series":"DeEPCA","x":80,"y":1.4},{"series":"DeEPCA","x":87,"y":0.106},{"series":"DeEPCA","x":94,"y":0.78},{"series":"DeEPCA","x":101,"y":0.039},{"series":"DeEPCA","x":108,"y":1.28},{"series":"DeEPCA","x":116,"y":0.136},{"series":"DeEPCA","x":123,"y":0.6},{"series":"DeEPCA","x":130,"y":0.065},{"series":"DeEPCA","x":137,"y":0.47},{"series":"DeEPCA","x":145,"y":0.039},{"series":"DeEPCA","x":152,"y":0.011},{"series":"DeEPCA","x":181,"y":4.2e-3},{"series":"DeEPCA","x":217,"y":1.55e-3},{"series":"DeEPCA","x":253,"y":5.6e-4},{"series":"DeEPCA","x":289,"y":2.1e-4},{"series":"DeEPCA","x":325,"y":7.8e-5},{"series":"DeEPCA","x":361,"y":2.8e-5},{"series":"DeEPCA","x":398,"y":1.05e-5},{"series":"DeEPCA","x":434,"y":3.9e-6},{"series":"DeEPCA","x":452,"y":2.35e-6}
]
},
"concat": [
{"width": 172, "height": 128, "data": {"name": "a"}, "title": "(a) prob = 0.2",
 "layer": [
  {"mark": {"type": "line", "strokeWidth": 1.6, "clip": true},
   "encoding": {
    "x": {"field": "x", "type": "quantitative", "scale": {"domain": [-220, 4100], "nice": false, "zero": false}, "axis": {"values": [0, 1000, 2000, 3000, 4000], "format": "d", "title": "Round of Communications"}},
    "y": {"field": "y", "type": "quantitative", "scale": {"type": "log", "domain": [5e-7, 3.55], "nice": false}, "axis": {"values": [0.1, 0.001, 0.00001], "labelExpr": "datum.value > 0.05 ? '10⁻¹' : datum.value > 0.0005 ? '10⁻³' : '10⁻⁵'", "title": "Substationarity Violation"}},
    "color": {"field": "series", "type": "nominal", "scale": {"domain": ["DRGTA", "DESTINY", "ADSA", "DeEPCA"], "range": ["#FFA500", "#4169E1", "#32CD32", "#B22222"]},
     "legend": {"title": null, "orient": "none", "legendX": 87, "legendY": 41,
      "labelExpr": "datum.label == 'DRGTA' ? 'DRGTA, η = ηᴮᴮᵢ,ₖ' : datum.label == 'DESTINY' ? 'DESTINY, η = ηᴮᴮᵢ,ₖ' : datum.label == 'ADSA' ? 'ADSA, η = 0.0005' : 'DeEPCA'",
      "encode": {"symbols": {"update": {"shape": {"signal": "datum.value == 'DRGTA' ? 'M-1.6,0H1.6M0,-0.6L0.52,0.3L-0.52,0.3Z' : datum.value == 'DESTINY' ? 'M-1.6,0H1.6M0,-0.6L0.135,-0.185L0.571,-0.185L0.218,0.071L0.353,0.485L0,0.229L-0.353,0.485L-0.218,0.071L-0.571,-0.185L-0.135,-0.185Z' : datum.value == 'ADSA' ? 'M-1.6,0H1.6M0,-0.6V0.6' : 'M-1.6,0H1.6M-0.6,-0.2H-0.2V-0.6H0.2V-0.2H0.6V0.2H0.2V0.6H-0.2V0.2H-0.6Z'"}}}}}}
   }},
  {"transform": [{"filter": "datum.series == 'DRGTA'"}], "mark": {"type": "point", "shape": "M0,-1L0.87,0.5L-0.87,0.5Z", "color": "#FFA500", "filled": false, "size": 16, "strokeWidth": 1, "clip": true}, "encoding": {"x": {"field": "x", "type": "quantitative"}, "y": {"field": "y", "type": "quantitative"}}},
  {"transform": [{"filter": "datum.series == 'DESTINY'"}], "mark": {"type": "point", "shape": "M0,-1L0.225,-0.309L0.951,-0.309L0.363,0.118L0.588,0.809L0,0.382L-0.588,0.809L-0.363,0.118L-0.951,-0.309L-0.225,-0.309Z", "color": "#4169E1", "filled": true, "opacity": 1, "size": 22, "clip": true}, "encoding": {"x": {"field": "x", "type": "quantitative"}, "y": {"field": "y", "type": "quantitative"}}},
  {"transform": [{"filter": "datum.series == 'ADSA'"}], "mark": {"type": "point", "shape": "M-1,0H1M0,-1V1", "color": "#32CD32", "filled": false, "size": 16, "strokeWidth": 1, "clip": true}, "encoding": {"x": {"field": "x", "type": "quantitative"}, "y": {"field": "y", "type": "quantitative"}}},
  {"transform": [{"filter": "datum.series == 'DeEPCA'"}], "mark": {"type": "point", "shape": "M-1,-0.33H-0.33V-1H0.33V-0.33H1V0.33H0.33V1H-0.33V0.33H-1Z", "color": "#B22222", "filled": true, "opacity": 1, "size": 20, "clip": true}, "encoding": {"x": {"field": "x", "type": "quantitative"}, "y": {"field": "y", "type": "quantitative"}}}
 ]},
{"width": 172, "height": 128, "data": {"name": "b"}, "title": "(b) prob = 0.4",
 "layer": [
  {"mark": {"type": "line", "strokeWidth": 1.6, "clip": true},
   "encoding": {
    "x": {"field": "x", "type": "quantitative", "scale": {"domain": [-70, 1605], "nice": false, "zero": false}, "axis": {"values": [0, 500, 1000, 1500], "format": "d", "title": "Round of Communications"}},
    "y": {"field": "y", "type": "quantitative", "scale": {"type": "log", "domain": [5e-7, 3.55], "nice": false}, "axis": {"values": [0.1, 0.001, 0.00001], "labelExpr": "datum.value > 0.05 ? '10⁻¹' : datum.value > 0.0005 ? '10⁻³' : '10⁻⁵'", "title": "Substationarity Violation"}},
    "color": {"field": "series", "type": "nominal", "scale": {"domain": ["DRGTA", "DESTINY", "ADSA", "DeEPCA"], "range": ["#FFA500", "#4169E1", "#32CD32", "#B22222"]},
     "legend": {"title": null, "orient": "top-right", "offset": 2,
      "labelExpr": "datum.label == 'DRGTA' ? 'DRGTA, η = ηᴮᴮᵢ,ₖ' : datum.label == 'DESTINY' ? 'DESTINY, η = ηᴮᴮᵢ,ₖ' : datum.label == 'ADSA' ? 'ADSA, η = 0.002' : 'DeEPCA'",
      "encode": {"symbols": {"update": {"shape": {"signal": "datum.value == 'DRGTA' ? 'M-1.6,0H1.6M0,-0.6L0.52,0.3L-0.52,0.3Z' : datum.value == 'DESTINY' ? 'M-1.6,0H1.6M0,-0.6L0.135,-0.185L0.571,-0.185L0.218,0.071L0.353,0.485L0,0.229L-0.353,0.485L-0.218,0.071L-0.571,-0.185L-0.135,-0.185Z' : datum.value == 'ADSA' ? 'M-1.6,0H1.6M0,-0.6V0.6' : 'M-1.6,0H1.6M-0.6,-0.2H-0.2V-0.6H0.2V-0.2H0.6V0.2H0.2V0.6H-0.2V0.2H-0.6Z'"}}}}}}
   }},
  {"transform": [{"filter": "datum.series == 'DRGTA'"}], "mark": {"type": "point", "shape": "M0,-1L0.87,0.5L-0.87,0.5Z", "color": "#FFA500", "filled": false, "size": 16, "strokeWidth": 1, "clip": true}, "encoding": {"x": {"field": "x", "type": "quantitative"}, "y": {"field": "y", "type": "quantitative"}}},
  {"transform": [{"filter": "datum.series == 'DESTINY'"}], "mark": {"type": "point", "shape": "M0,-1L0.225,-0.309L0.951,-0.309L0.363,0.118L0.588,0.809L0,0.382L-0.588,0.809L-0.363,0.118L-0.951,-0.309L-0.225,-0.309Z", "color": "#4169E1", "filled": true, "opacity": 1, "size": 22, "clip": true}, "encoding": {"x": {"field": "x", "type": "quantitative"}, "y": {"field": "y", "type": "quantitative"}}},
  {"transform": [{"filter": "datum.series == 'ADSA'"}], "mark": {"type": "point", "shape": "M-1,0H1M0,-1V1", "color": "#32CD32", "filled": false, "size": 16, "strokeWidth": 1, "clip": true}, "encoding": {"x": {"field": "x", "type": "quantitative"}, "y": {"field": "y", "type": "quantitative"}}},
  {"transform": [{"filter": "datum.series == 'DeEPCA'"}], "mark": {"type": "point", "shape": "M-1,-0.33H-0.33V-1H0.33V-0.33H1V0.33H0.33V1H-0.33V0.33H-1Z", "color": "#B22222", "filled": true, "opacity": 1, "size": 20, "clip": true}, "encoding": {"x": {"field": "x", "type": "quantitative"}, "y": {"field": "y", "type": "quantitative"}}}
 ]},
{"width": 172, "height": 128, "data": {"name": "c"}, "title": "(c) prob = 0.6",
 "layer": [
  {"mark": {"type": "line", "strokeWidth": 1.6, "clip": true},
   "encoding": {
    "x": {"field": "x", "type": "quantitative", "scale": {"domain": [-90, 1775], "nice": false, "zero": false}, "axis": {"values": [0, 500, 1000, 1500], "format": "d", "title": "Round of Communications"}},
    "y": {"field": "y", "type": "quantitative", "scale": {"type": "log", "domain": [5e-7, 3.55], "nice": false}, "axis": {"values": [0.1, 0.001, 0.00001], "labelExpr": "datum.value > 0.05 ? '10⁻¹' : datum.value > 0.0005 ? '10⁻³' : '10⁻⁵'", "title": "Substationarity Violation"}},
    "color": {"field": "series", "type": "nominal", "scale": {"domain": ["DRGTA", "DESTINY", "ADSA", "DeEPCA"], "range": ["#FFA500", "#4169E1", "#32CD32", "#B22222"]},
     "legend": {"title": null, "orient": "top-right", "offset": 2,
      "labelExpr": "datum.label == 'DRGTA' ? 'DRGTA, η = ηᴮᴮᵢ,ₖ' : datum.label == 'DESTINY' ? 'DESTINY, η = ηᴮᴮᵢ,ₖ' : datum.label == 'ADSA' ? 'ADSA, η = 0.002' : 'DeEPCA'",
      "encode": {"symbols": {"update": {"shape": {"signal": "datum.value == 'DRGTA' ? 'M-1.6,0H1.6M0,-0.6L0.52,0.3L-0.52,0.3Z' : datum.value == 'DESTINY' ? 'M-1.6,0H1.6M0,-0.6L0.135,-0.185L0.571,-0.185L0.218,0.071L0.353,0.485L0,0.229L-0.353,0.485L-0.218,0.071L-0.571,-0.185L-0.135,-0.185Z' : datum.value == 'ADSA' ? 'M-1.6,0H1.6M0,-0.6V0.6' : 'M-1.6,0H1.6M-0.6,-0.2H-0.2V-0.6H0.2V-0.2H0.6V0.2H0.2V0.6H-0.2V0.2H-0.6Z'"}}}}}}
   }},
  {"transform": [{"filter": "datum.series == 'DRGTA'"}], "mark": {"type": "point", "shape": "M0,-1L0.87,0.5L-0.87,0.5Z", "color": "#FFA500", "filled": false, "size": 16, "strokeWidth": 1, "clip": true}, "encoding": {"x": {"field": "x", "type": "quantitative"}, "y": {"field": "y", "type": "quantitative"}}},
  {"transform": [{"filter": "datum.series == 'DESTINY'"}], "mark": {"type": "point", "shape": "M0,-1L0.225,-0.309L0.951,-0.309L0.363,0.118L0.588,0.809L0,0.382L-0.588,0.809L-0.363,0.118L-0.951,-0.309L-0.225,-0.309Z", "color": "#4169E1", "filled": true, "opacity": 1, "size": 22, "clip": true}, "encoding": {"x": {"field": "x", "type": "quantitative"}, "y": {"field": "y", "type": "quantitative"}}},
  {"transform": [{"filter": "datum.series == 'ADSA'"}], "mark": {"type": "point", "shape": "M-1,0H1M0,-1V1", "color": "#32CD32", "filled": false, "size": 16, "strokeWidth": 1, "clip": true}, "encoding": {"x": {"field": "x", "type": "quantitative"}, "y": {"field": "y", "type": "quantitative"}}},
  {"transform": [{"filter": "datum.series == 'DeEPCA'"}], "mark": {"type": "point", "shape": "M-1,-0.33H-0.33V-1H0.33V-0.33H1V0.33H0.33V1H-0.33V0.33H-1Z", "color": "#B22222", "filled": true, "opacity": 1, "size": 20, "clip": true}, "encoding": {"x": {"field": "x", "type": "quantitative"}, "y": {"field": "y", "type": "quantitative"}}}
 ]},
{"width": 172, "height": 129, "data": {"name": "d"}, "title": "(d) prob = 0.2",
 "layer": [
  {"mark": {"type": "line", "strokeWidth": 1.6, "clip": true},
   "encoding": {
    "x": {"field": "x", "type": "quantitative", "scale": {"domain": [-220, 4100], "nice": false, "zero": false}, "axis": {"values": [0, 1000, 2000, 3000, 4000], "format": "d", "title": "Round of Communications"}},
    "y": {"field": "y", "type": "quantitative", "scale": {"type": "log", "domain": [5e-8, 3.7], "nice": false}, "axis": {"values": [1, 0.01, 0.0001, 0.000001], "labelExpr": "datum.value > 0.5 ? '10⁰' : datum.value > 0.005 ? '10⁻²' : datum.value > 0.00005 ? '10⁻⁴' : '10⁻⁶'", "title": "Consensus Error"}},
    "color": {"field": "series", "type": "nominal", "scale": {"domain": ["DRGTA", "DESTINY", "ADSA", "DeEPCA"], "range": ["#FFA500", "#4169E1", "#32CD32", "#B22222"]},
     "legend": {"title": null, "orient": "none", "legendX": 87, "legendY": 40,
      "labelExpr": "datum.label == 'DRGTA' ? 'DRGTA, η = ηᴮᴮᵢ,ₖ' : datum.label == 'DESTINY' ? 'DESTINY, η = ηᴮᴮᵢ,ₖ' : datum.label == 'ADSA' ? 'ADSA, η = 0.0005' : 'DeEPCA'",
      "encode": {"symbols": {"update": {"shape": {"signal": "datum.value == 'DRGTA' ? 'M-1.6,0H1.6M0,-0.6L0.52,0.3L-0.52,0.3Z' : datum.value == 'DESTINY' ? 'M-1.6,0H1.6M0,-0.6L0.135,-0.185L0.571,-0.185L0.218,0.071L0.353,0.485L0,0.229L-0.353,0.485L-0.218,0.071L-0.571,-0.185L-0.135,-0.185Z' : datum.value == 'ADSA' ? 'M-1.6,0H1.6M0,-0.6V0.6' : 'M-1.6,0H1.6M-0.6,-0.2H-0.2V-0.6H0.2V-0.2H0.6V0.2H0.2V0.6H-0.2V0.2H-0.6Z'"}}}}}}
   }},
  {"transform": [{"filter": "datum.series == 'DRGTA'"}], "mark": {"type": "point", "shape": "M0,-1L0.87,0.5L-0.87,0.5Z", "color": "#FFA500", "filled": false, "size": 16, "strokeWidth": 1, "clip": true}, "encoding": {"x": {"field": "x", "type": "quantitative"}, "y": {"field": "y", "type": "quantitative"}}},
  {"transform": [{"filter": "datum.series == 'DESTINY'"}], "mark": {"type": "point", "shape": "M0,-1L0.225,-0.309L0.951,-0.309L0.363,0.118L0.588,0.809L0,0.382L-0.588,0.809L-0.363,0.118L-0.951,-0.309L-0.225,-0.309Z", "color": "#4169E1", "filled": true, "opacity": 1, "size": 22, "clip": true}, "encoding": {"x": {"field": "x", "type": "quantitative"}, "y": {"field": "y", "type": "quantitative"}}},
  {"transform": [{"filter": "datum.series == 'ADSA'"}], "mark": {"type": "point", "shape": "M-1,0H1M0,-1V1", "color": "#32CD32", "filled": false, "size": 16, "strokeWidth": 1, "clip": true}, "encoding": {"x": {"field": "x", "type": "quantitative"}, "y": {"field": "y", "type": "quantitative"}}},
  {"transform": [{"filter": "datum.series == 'DeEPCA'"}], "mark": {"type": "point", "shape": "M-1,-0.33H-0.33V-1H0.33V-0.33H1V0.33H0.33V1H-0.33V0.33H-1Z", "color": "#B22222", "filled": true, "opacity": 1, "size": 20, "clip": true}, "encoding": {"x": {"field": "x", "type": "quantitative"}, "y": {"field": "y", "type": "quantitative"}}}
 ]},
{"width": 172, "height": 129, "data": {"name": "e"}, "title": "(e) prob = 0.4",
 "layer": [
  {"mark": {"type": "line", "strokeWidth": 1.6, "clip": true},
   "encoding": {
    "x": {"field": "x", "type": "quantitative", "scale": {"domain": [-72, 1595], "nice": false, "zero": false}, "axis": {"values": [0, 500, 1000, 1500], "format": "d", "title": "Round of Communications"}},
    "y": {"field": "y", "type": "quantitative", "scale": {"type": "log", "domain": [2.1e-8, 3.0], "nice": false}, "axis": {"values": [1, 0.01, 0.0001, 0.000001], "labelExpr": "datum.value > 0.5 ? '10⁰' : datum.value > 0.005 ? '10⁻²' : datum.value > 0.00005 ? '10⁻⁴' : '10⁻⁶'", "title": "Consensus Error"}},
    "color": {"field": "series", "type": "nominal", "scale": {"domain": ["DRGTA", "DESTINY", "ADSA", "DeEPCA"], "range": ["#FFA500", "#4169E1", "#32CD32", "#B22222"]},
     "legend": {"title": null, "orient": "top-right", "offset": 2,
      "labelExpr": "datum.label == 'DRGTA' ? 'DRGTA, η = ηᴮᴮᵢ,ₖ' : datum.label == 'DESTINY' ? 'DESTINY, η = ηᴮᴮᵢ,ₖ' : datum.label == 'ADSA' ? 'ADSA, η = 0.002' : 'DeEPCA'",
      "encode": {"symbols": {"update": {"shape": {"signal": "datum.value == 'DRGTA' ? 'M-1.6,0H1.6M0,-0.6L0.52,0.3L-0.52,0.3Z' : datum.value == 'DESTINY' ? 'M-1.6,0H1.6M0,-0.6L0.135,-0.185L0.571,-0.185L0.218,0.071L0.353,0.485L0,0.229L-0.353,0.485L-0.218,0.071L-0.571,-0.185L-0.135,-0.185Z' : datum.value == 'ADSA' ? 'M-1.6,0H1.6M0,-0.6V0.6' : 'M-1.6,0H1.6M-0.6,-0.2H-0.2V-0.6H0.2V-0.2H0.6V0.2H0.2V0.6H-0.2V0.2H-0.6Z'"}}}}}}
   }},
  {"transform": [{"filter": "datum.series == 'DRGTA'"}], "mark": {"type": "point", "shape": "M0,-1L0.87,0.5L-0.87,0.5Z", "color": "#FFA500", "filled": false, "size": 16, "strokeWidth": 1, "clip": true}, "encoding": {"x": {"field": "x", "type": "quantitative"}, "y": {"field": "y", "type": "quantitative"}}},
  {"transform": [{"filter": "datum.series == 'DESTINY'"}], "mark": {"type": "point", "shape": "M0,-1L0.225,-0.309L0.951,-0.309L0.363,0.118L0.588,0.809L0,0.382L-0.588,0.809L-0.363,0.118L-0.951,-0.309L-0.225,-0.309Z", "color": "#4169E1", "filled": true, "opacity": 1, "size": 22, "clip": true}, "encoding": {"x": {"field": "x", "type": "quantitative"}, "y": {"field": "y", "type": "quantitative"}}},
  {"transform": [{"filter": "datum.series == 'ADSA'"}], "mark": {"type": "point", "shape": "M-1,0H1M0,-1V1", "color": "#32CD32", "filled": false, "size": 16, "strokeWidth": 1, "clip": true}, "encoding": {"x": {"field": "x", "type": "quantitative"}, "y": {"field": "y", "type": "quantitative"}}},
  {"transform": [{"filter": "datum.series == 'DeEPCA'"}], "mark": {"type": "point", "shape": "M-1,-0.33H-0.33V-1H0.33V-0.33H1V0.33H0.33V1H-0.33V0.33H-1Z", "color": "#B22222", "filled": true, "opacity": 1, "size": 20, "clip": true}, "encoding": {"x": {"field": "x", "type": "quantitative"}, "y": {"field": "y", "type": "quantitative"}}}
 ]},
{"width": 172, "height": 129, "data": {"name": "f"}, "title": "(f) prob = 0.6",
 "layer": [
  {"mark": {"type": "line", "strokeWidth": 1.6, "clip": true},
   "encoding": {
    "x": {"field": "x", "type": "quantitative", "scale": {"domain": [-90, 1775], "nice": false, "zero": false}, "axis": {"values": [0, 500, 1000, 1500], "format": "d", "title": "Round of Communications"}},
    "y": {"field": "y", "type": "quantitative", "scale": {"type": "log", "domain": [1.8e-8, 4.0], "nice": false}, "axis": {"values": [1, 0.01, 0.0001, 0.000001], "labelExpr": "datum.value > 0.5 ? '10⁰' : datum.value > 0.005 ? '10⁻²' : datum.value > 0.00005 ? '10⁻⁴' : '10⁻⁶'", "title": "Consensus Error"}},
    "color": {"field": "series", "type": "nominal", "scale": {"domain": ["DRGTA", "DESTINY", "ADSA", "DeEPCA"], "range": ["#FFA500", "#4169E1", "#32CD32", "#B22222"]},
     "legend": {"title": null, "orient": "top-right", "offset": 2,
      "labelExpr": "datum.label == 'DRGTA' ? 'DRGTA, η = ηᴮᴮᵢ,ₖ' : datum.label == 'DESTINY' ? 'DESTINY, η = ηᴮᴮᵢ,ₖ' : datum.label == 'ADSA' ? 'ADSA, η = 0.002' : 'DeEPCA'",
      "encode": {"symbols": {"update": {"shape": {"signal": "datum.value == 'DRGTA' ? 'M-1.6,0H1.6M0,-0.6L0.52,0.3L-0.52,0.3Z' : datum.value == 'DESTINY' ? 'M-1.6,0H1.6M0,-0.6L0.135,-0.185L0.571,-0.185L0.218,0.071L0.353,0.485L0,0.229L-0.353,0.485L-0.218,0.071L-0.571,-0.185L-0.135,-0.185Z' : datum.value == 'ADSA' ? 'M-1.6,0H1.6M0,-0.6V0.6' : 'M-1.6,0H1.6M-0.6,-0.2H-0.2V-0.6H0.2V-0.2H0.6V0.2H0.2V0.6H-0.2V0.2H-0.6Z'"}}}}}}
   }},
  {"transform": [{"filter": "datum.series == 'DRGTA'"}], "mark": {"type": "point", "shape": "M0,-1L0.87,0.5L-0.87,0.5Z", "color": "#FFA500", "filled": false, "size": 16, "strokeWidth": 1, "clip": true}, "encoding": {"x": {"field": "x", "type": "quantitative"}, "y": {"field": "y", "type": "quantitative"}}},
  {"transform": [{"filter": "datum.series == 'DESTINY'"}], "mark": {"type": "point", "shape": "M0,-1L0.225,-0.309L0.951,-0.309L0.363,0.118L0.588,0.809L0,0.382L-0.588,0.809L-0.363,0.118L-0.951,-0.309L-0.225,-0.309Z", "color": "#4169E1", "filled": true, "opacity": 1, "size": 22, "clip": true}, "encoding": {"x": {"field": "x", "type": "quantitative"}, "y": {"field": "y", "type": "quantitative"}}},
  {"transform": [{"filter": "datum.series == 'ADSA'"}], "mark": {"type": "point", "shape": "M-1,0H1M0,-1V1", "color": "#32CD32", "filled": false, "size": 16, "strokeWidth": 1, "clip": true}, "encoding": {"x": {"field": "x", "type": "quantitative"}, "y": {"field": "y", "type": "quantitative"}}},
  {"transform": [{"filter": "datum.series == 'DeEPCA'"}], "mark": {"type": "point", "shape": "M-1,-0.33H-0.33V-1H0.33V-0.33H1V0.33H0.33V1H-0.33V0.33H-1Z", "color": "#B22222", "filled": true, "opacity": 1, "size": 20, "clip": true}, "encoding": {"x": {"field": "x", "type": "quantitative"}, "y": {"field": "y", "type": "quantitative"}}}
 ]}
],
"resolve": {"scale": {"color": "independent"}, "legend": {"color": "independent"}},
"config": {
 "font": "DejaVu Sans",
 "view": {"stroke": "#555", "strokeWidth": 0.8},
 "axis": {"domain": false, "grid": false, "ticks": true, "tickSize": 2.5, "tickColor": "#333", "tickWidth": 0.7, "labelFont": "DejaVu Sans", "labelFontSize": 4.2, "labelColor": "#222", "labelPadding": 1, "titleFont": "DejaVu Sans", "titleFontSize": 7, "titleFontWeight": "normal", "titleColor": "#111", "titlePadding": 2},
 "legend": {"fillColor": "rgba(255,255,255,0.85)", "strokeColor": "#ccc", "cornerRadius": 2, "padding": 2.5, "labelFont": "DejaVu Sans", "labelFontSize": 6.3, "labelColor": "#111", "rowPadding": 1, "symbolSize": 100, "symbolStrokeWidth": 1.4, "symbolOffset": 2, "labelOffset": 5},
 "title": {"font": "Liberation Serif", "fontSize": 11, "fontWeight": "normal", "orient": "bottom", "offset": 12, "color": "#111", "frame": "group", "anchor": "middle"}
}
}
